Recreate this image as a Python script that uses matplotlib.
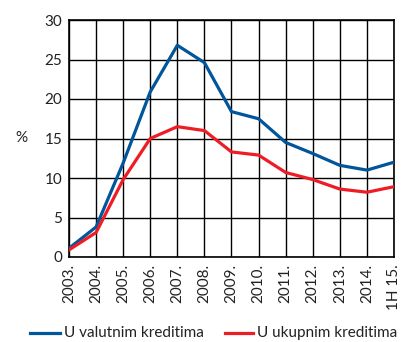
import matplotlib
matplotlib.use("Agg")
import matplotlib.pyplot as plt
from matplotlib.lines import Line2D

# Annual growth of loans (%)
years = ['2003.', '2004.', '2005.', '2006.', '2007.', '2008.', '2009.',
         '2010.', '2011.', '2012.', '2013.', '2014.', '1H 15.']
valutni = [1.1, 3.8, 11.9, 20.9, 26.8, 24.6, 18.4, 17.5, 14.5, 13.1, 11.6, 11.0, 12.0]
ukupni = [0.9, 3.1, 9.8, 15.0, 16.5, 16.0, 13.3, 12.9, 10.7, 9.8, 8.6, 8.2, 8.9]

BLUE = '#00559b'
RED = '#ee1c25'
TXT = '#222222'
FS = 11

plt.rcParams['font.family'] = ['Lato', 'DejaVu Sans']

W, H = 403, 342
fig = plt.figure(figsize=(W / 100, H / 100), dpi=100)
ax = fig.add_axes([69 / W, 1 - 257 / H, 325 / W, 237 / H])

x = list(range(len(years)))
ax.plot(x, valutni, color=BLUE, lw=2.3, zorder=3)
ax.plot(x, ukupni, color=RED, lw=2.3, zorder=3)

ax.set_xlim(0, len(years) - 1)
ax.set_ylim(0, 30)
ax.set_yticks(range(0, 31, 5))
ax.set_xticks(x)
ax.set_xticklabels(years, rotation=90, fontsize=FS, color=TXT)
ax.tick_params(axis='y', labelsize=FS, labelcolor=TXT)
ax.tick_params(length=0, pad=5)
ax.grid(True, color='black', lw=1.0)
for s in ax.spines.values():
    s.set_linewidth(1.2)
ax.set_axisbelow(True)

fig.text(15 / W, 1 - 138 / H, '%', fontsize=FS, color=TXT,
         ha='left', va='center')

# legend drawn by hand along the bottom edge
ly = 1 - 333 / H
for x0, x1, col, lab in [(30, 60, BLUE, 'U valutnim kreditima'),
                         (225, 253, RED, 'U ukupnim kreditima')]:
    fig.add_artist(Line2D([x0 / W, x1 / W], [ly, ly], color=col, lw=2.3,
                          transform=fig.transFigure))
    fig.text((x1 + 4) / W, ly, lab, fontsize=FS, color=TXT,
             ha='left', va='center')

fig.savefig('out.png', dpi=100)
